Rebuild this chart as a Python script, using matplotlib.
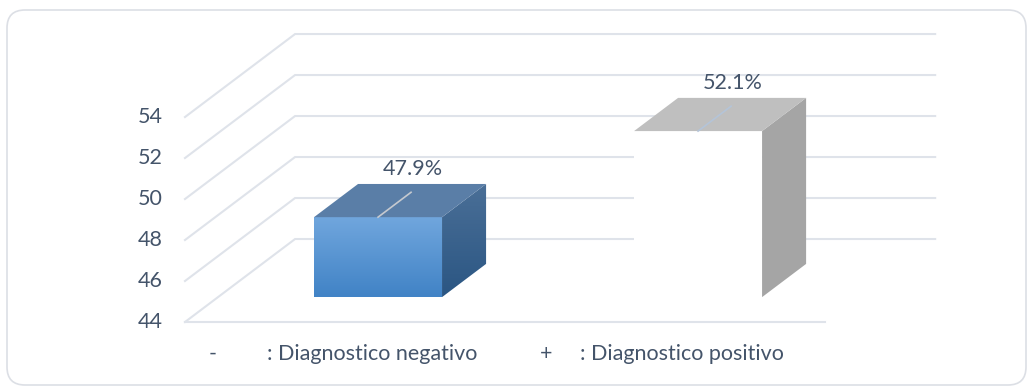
import numpy as np
import matplotlib.pyplot as plt
from matplotlib.patches import Polygon, FancyBboxPatch
from matplotlib.colors import LinearSegmentedColormap
from matplotlib.transforms import IdentityTransform

# ----------------------------
# Data
# ----------------------------
categories = ["-", "+"]
descriptions = [": Diagnostico negativo", ": Diagnostico positivo"]
values = [47.9, 52.1]
value_labels = ["47.9%", "52.1%"]
yticks = [44, 46, 48, 50, 52, 54]

# ----------------------------
# 3D look parameters (oblique projection in data units)
# ----------------------------
ymin = 44
DX, DY = 0.344, 4.05        # full floor depth offset
d0, d1 = 0.3, 0.7           # bar front / back depth
half_w = 0.2
txt = "#44546a"
grid_c = "#dfe3ea"
fs = 15.5

plt.rcParams['font.family'] = ['Lato', 'DejaVu Sans']

fig = plt.figure(figsize=(10.27, 3.87), dpi=100)
ax = fig.add_axes([0, 0, 1, 1])
ax.set_xlim(-1.078, 2.131)
ax.set_ylim(40.83, 59.71)
ax.axis("off")

# chart border
fig.patches.append(FancyBboxPatch((7, 2), 1019, 375, boxstyle="round,pad=0,rounding_size=18",
                                  transform=IdentityTransform(), fc="none", ec="#dcdfe5", lw=1.2))

x0, x1 = -0.5, len(categories) - 0.5

# gridlines: diagonal on side wall + horizontal on back wall
for v in yticks:
    ax.plot([x0, x0 + DX, x1 + DX], [v, v + DY, v + DY], color=grid_c, lw=1.5, zorder=1,
            solid_joinstyle="miter")
    ax.text(x0 - 0.07, v, str(v), ha="right", va="center", fontsize=fs, color=txt)
ax.plot([x0, x1], [ymin, ymin], color=grid_c, lw=1.5, zorder=1)

# ----------------------------
# Bars
# ----------------------------
front_cmap = LinearSegmentedColormap.from_list("front", ["#4183c6", "#70a6dd"])
side_cmap = LinearSegmentedColormap.from_list("side", ["#2b5683", "#4a6f97"])
grad = np.linspace(0, 1, 64).reshape(-1, 1)

styles = [
    dict(front=front_cmap, side=side_cmap, top="#5a7ea7", line="#c5c9cf"),
    dict(front=None, side="#a5a5a5", top="#bfbfbf", line="#b4c4d8"),
]

for i, (v, st) in enumerate(zip(values, styles)):
    fl = i - half_w + d0 * DX
    fr = i + half_w + d0 * DX
    fb = ymin + d0 * DY
    ft = v + d0 * DY
    ddx = (d1 - d0) * DX
    ddy = (d1 - d0) * DY

    front = Polygon([(fl, fb), (fr, fb), (fr, ft), (fl, ft)], closed=True)
    side = Polygon([(fr, fb), (fr + ddx, fb + ddy), (fr + ddx, ft + ddy), (fr, ft)], closed=True)
    top = Polygon([(fl, ft), (fr, ft), (fr + ddx, ft + ddy), (fl + ddx, ft + ddy)], closed=True,
                  fc=st["top"], ec="none", zorder=3)

    if st["front"] is None:
        front.set(fc="white", ec="none", zorder=3)
        ax.add_patch(front)
    else:
        front.set(fc="none", ec="none")
        ax.add_patch(front)
        im = ax.imshow(grad, cmap=st["front"], origin="lower", aspect="auto",
                       extent=[fl, fr, fb, ft], zorder=3)
        im.set_clip_path(front)

    if isinstance(st["side"], str):
        side.set(fc=st["side"], ec="none", zorder=3)
        ax.add_patch(side)
    else:
        side.set(fc="none", ec="none")
        ax.add_patch(side)
        im = ax.imshow(grad, cmap=st["side"], origin="lower", aspect="auto",
                       extent=[fr, fr + ddx, fb, ft + ddy], zorder=3)
        im.set_clip_path(side)
    ax.add_patch(top)

    # label with leader line
    cx = i + d0 * DX
    ax.plot([cx, cx + 0.75 * ddx], [ft, ft + 0.75 * ddy], color=st["line"], lw=1.2, zorder=4)
    ax.text(i + d1 * DX - 0.03, v + d1 * DY + 0.75, value_labels[i], ha="center", va="center",
            fontsize=fs, color=txt, zorder=5)

# category labels with descriptions
cat_x = [-0.4125, 0.628]
desc_x = [-0.244, 0.734]
for c, d, cxp, dxp in zip(categories, descriptions, cat_x, desc_x):
    ax.text(cxp, 42.45, c, ha="center", va="center", fontsize=fs, color=txt)
    ax.text(dxp, 42.45, d, ha="left", va="center", fontsize=fs, color=txt)

plt.savefig("out.png", dpi=100)
